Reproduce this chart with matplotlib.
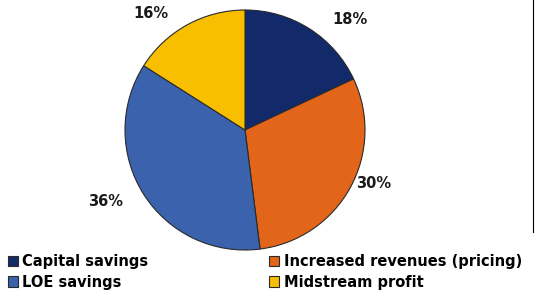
import matplotlib.pyplot as plt
from matplotlib.lines import Line2D

# Data
labels = ["Capital savings", "Increased revenues (pricing)", "LOE savings", "Midstream profit"]
shares = [18, 30, 36, 16]
colors = ["#12296a", "#e2651a", "#3a62ad", "#f7bf00"]
label_pos = [(350, 20), (374, 183), (106, 201), (151, 13)]  # pixel centres of % labels

fig = plt.figure(figsize=(5.35, 2.96), dpi=100)
ax = fig.add_axes([125 / 535, 46 / 296, 240 / 535, 240 / 296])

wedges, _ = ax.pie(shares, colors=colors, startangle=90, counterclock=False,
                   wedgeprops=dict(edgecolor="#2a2a2a", linewidth=0.8))
ax.set_aspect("auto")
ax.set_xlim(-1, 1)
ax.set_ylim(-1, 1)

# percentage labels
for s, (px, py) in zip(shares, label_pos):
    fig.text(px / 535, 1 - py / 296, f"{s}%", ha="center", va="center",
             fontsize=10.5, fontweight="bold", color="#1a1a1a")

# legend: two columns
order = [0, 2, 1, 3]
fig.legend([wedges[i] for i in order], [labels[i] for i in order],
           ncol=2, loc="lower left", bbox_to_anchor=(-0.005, -0.013),
           frameon=False, prop=dict(weight="bold", size=10.5),
           handlelength=0.7, handleheight=0.7, handletextpad=0.3,
           columnspacing=8.3, labelspacing=0.4, borderaxespad=0.3)

# thin vertical rule at right edge
fig.add_artist(Line2D([533 / 535, 533 / 535], [1 - 232 / 296, 1.0],
                      color="black", linewidth=0.8))

fig.savefig("out.png", dpi=100)
